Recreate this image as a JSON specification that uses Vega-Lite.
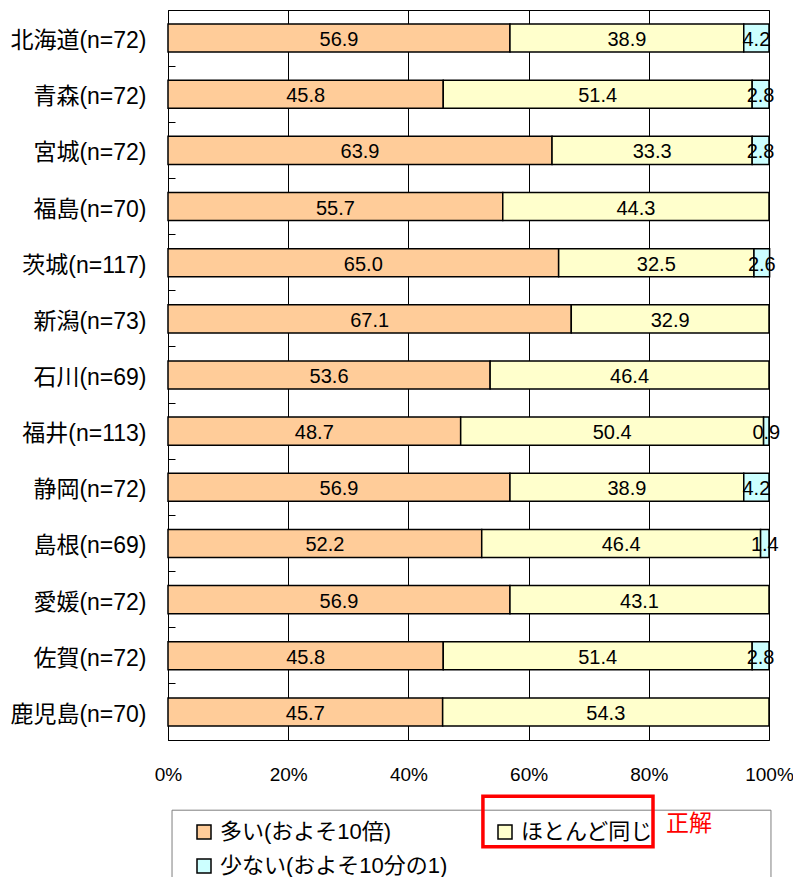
{
  "$schema": "https://vega.github.io/schema/vega-lite/v6.json",
  "width": 601,
  "height": 730,
  "autosize": {"type": "none"},
  "padding": {"left": 168, "top": 10, "right": 24, "bottom": 137},
  "config": {
    "font": "Liberation Sans, Noto Sans CJK JP",
    "view": {"stroke": "#000", "strokeWidth": 1}
  },
  "layer": [
    {
      "data": {
        "values": [
          {"pref": "北海道(n=72)", "answer": "多い(およそ10倍)", "code": 1, "pct": 56.9},
          {"pref": "北海道(n=72)", "answer": "ほとんど同じ", "code": 2, "pct": 38.9},
          {"pref": "北海道(n=72)", "answer": "少ない(およそ10分の1)", "code": 3, "pct": 4.2},
          {"pref": "青森(n=72)", "answer": "多い(およそ10倍)", "code": 1, "pct": 45.8},
          {"pref": "青森(n=72)", "answer": "ほとんど同じ", "code": 2, "pct": 51.4},
          {"pref": "青森(n=72)", "answer": "少ない(およそ10分の1)", "code": 3, "pct": 2.8},
          {"pref": "宮城(n=72)", "answer": "多い(およそ10倍)", "code": 1, "pct": 63.9},
          {"pref": "宮城(n=72)", "answer": "ほとんど同じ", "code": 2, "pct": 33.3},
          {"pref": "宮城(n=72)", "answer": "少ない(およそ10分の1)", "code": 3, "pct": 2.8},
          {"pref": "福島(n=70)", "answer": "多い(およそ10倍)", "code": 1, "pct": 55.7},
          {"pref": "福島(n=70)", "answer": "ほとんど同じ", "code": 2, "pct": 44.3},
          {"pref": "茨城(n=117)", "answer": "多い(およそ10倍)", "code": 1, "pct": 65.0},
          {"pref": "茨城(n=117)", "answer": "ほとんど同じ", "code": 2, "pct": 32.5},
          {"pref": "茨城(n=117)", "answer": "少ない(およそ10分の1)", "code": 3, "pct": 2.6},
          {"pref": "新潟(n=73)", "answer": "多い(およそ10倍)", "code": 1, "pct": 67.1},
          {"pref": "新潟(n=73)", "answer": "ほとんど同じ", "code": 2, "pct": 32.9},
          {"pref": "石川(n=69)", "answer": "多い(およそ10倍)", "code": 1, "pct": 53.6},
          {"pref": "石川(n=69)", "answer": "ほとんど同じ", "code": 2, "pct": 46.4},
          {"pref": "福井(n=113)", "answer": "多い(およそ10倍)", "code": 1, "pct": 48.7},
          {"pref": "福井(n=113)", "answer": "ほとんど同じ", "code": 2, "pct": 50.4},
          {"pref": "福井(n=113)", "answer": "少ない(およそ10分の1)", "code": 3, "pct": 0.9},
          {"pref": "静岡(n=72)", "answer": "多い(およそ10倍)", "code": 1, "pct": 56.9},
          {"pref": "静岡(n=72)", "answer": "ほとんど同じ", "code": 2, "pct": 38.9},
          {"pref": "静岡(n=72)", "answer": "少ない(およそ10分の1)", "code": 3, "pct": 4.2},
          {"pref": "島根(n=69)", "answer": "多い(およそ10倍)", "code": 1, "pct": 52.2},
          {"pref": "島根(n=69)", "answer": "ほとんど同じ", "code": 2, "pct": 46.4},
          {"pref": "島根(n=69)", "answer": "少ない(およそ10分の1)", "code": 3, "pct": 1.4},
          {"pref": "愛媛(n=72)", "answer": "多い(およそ10倍)", "code": 1, "pct": 56.9},
          {"pref": "愛媛(n=72)", "answer": "ほとんど同じ", "code": 2, "pct": 43.1},
          {"pref": "佐賀(n=72)", "answer": "多い(およそ10倍)", "code": 1, "pct": 45.8},
          {"pref": "佐賀(n=72)", "answer": "ほとんど同じ", "code": 2, "pct": 51.4},
          {"pref": "佐賀(n=72)", "answer": "少ない(およそ10分の1)", "code": 3, "pct": 2.8},
          {"pref": "鹿児島(n=70)", "answer": "多い(およそ10倍)", "code": 1, "pct": 45.7},
          {"pref": "鹿児島(n=70)", "answer": "ほとんど同じ", "code": 2, "pct": 54.3}
        ]
      },
      "transform": [
        {"stack": "pct", "groupby": ["pref"], "sort": [{"field": "code", "order": "ascending"}], "as": ["x0", "x1"]},
        {"calculate": "(datum.x0 + datum.x1) / 2", "as": "mid"}
      ],
      "layer": [
        {
          "mark": {"type": "bar", "stroke": "#000", "strokeWidth": 1.5},
          "encoding": {
            "y": {
              "field": "pref", "type": "nominal", "sort": null, "title": null,
              "scale": {"paddingInner": 0.5, "paddingOuter": 0.25},
              "axis": {
                "domainColor": "#000", "ticks": true, "tickSize": -7, "tickColor": "#000",
                "bandPosition": 1.5, "labelFontSize": 23, "labelColor": "#000",
                "labelPadding": 29, "labelOffset": 3, "grid": false, "labelLimit": 300
              }
            },
            "x": {
              "field": "x0", "type": "quantitative", "title": null,
              "scale": {"domain": [0, 100]},
              "axis": {
                "values": [0, 20, 40, 60, 80, 100], "labelExpr": "datum.value + '%'",
                "ticks": false, "domain": false, "grid": true, "gridColor": "#000",
                "gridWidth": 1, "gridOpacity": 1, "labelFontSize": 19, "labelColor": "#000",
                "labelPadding": 25, "labelFlush": false
              }
            },
            "x2": {"field": "x1"},
            "color": {
              "field": "answer", "type": "nominal",
              "scale": {
                "domain": ["多い(およそ10倍)", "ほとんど同じ", "少ない(およそ10分の1)"],
                "range": ["#FFCC99", "#FFFFCC", "#CCFFFF"]
              },
              "legend": {
                "orient": "none", "legendX": 25, "legendY": 811, "direction": "horizontal",
                "columns": 2, "title": null, "symbolType": "square", "symbolSize": 196,
                "symbolStrokeColor": "#000", "symbolStrokeWidth": 1.5, "symbolOpacity": 1,
                "labelFontSize": 22, "labelColor": "#000", "labelOffset": 5,
                "columnPadding": 46, "rowPadding": 12, "padding": 0, "labelLimit": 400
              }
            }
          }
        },
        {
          "mark": {"type": "text", "fontSize": 20, "baseline": "middle", "color": "#000", "dy": 2},
          "encoding": {
            "y": {"field": "pref", "type": "nominal", "sort": null},
            "x": {"field": "mid", "type": "quantitative", "title": null},
            "text": {"field": "pct", "type": "quantitative", "format": ".1f"}
          }
        }
      ]
    },
    {
      "data": {
        "values": [
          {"kind": "frame", "x0": 0.67, "x1": 100.33, "y0": -1.25, "y1": -2.8},
          {"kind": "answer", "x0": 52.4, "x1": 80.7, "y0": -1.0, "y1": -1.9, "label": "正解"}
        ]
      },
      "layer": [
        {
          "transform": [{"filter": "datum.kind === 'frame'"}],
          "mark": {"type": "rect", "filled": false, "stroke": "#7f7f7f", "strokeWidth": 1},
          "encoding": {
            "x": {"field": "x0", "type": "quantitative", "title": null},
            "x2": {"field": "x1"},
            "y": {"field": "y0", "type": "quantitative", "scale": {"domain": [0, 13]}, "axis": null},
            "y2": {"field": "y1"}
          }
        },
        {
          "transform": [{"filter": "datum.kind === 'answer'"}],
          "mark": {"type": "rect", "filled": false, "stroke": "#ff0000", "strokeWidth": 3.5},
          "encoding": {
            "x": {"field": "x0", "type": "quantitative", "title": null},
            "x2": {"field": "x1"},
            "y": {"field": "y0", "type": "quantitative", "scale": {"domain": [0, 13]}, "axis": null},
            "y2": {"field": "y1"}
          }
        },
        {
          "transform": [{"filter": "datum.kind === 'answer'"}, {"calculate": "(datum.y0 + datum.y1) / 2", "as": "ym"}],
          "mark": {"type": "text", "color": "#ff0000", "fontSize": 23, "align": "left", "baseline": "middle", "dx": 13, "dy": 3},
          "encoding": {
            "x": {"field": "x1", "type": "quantitative", "title": null},
            "y": {"field": "ym", "type": "quantitative", "scale": {"domain": [0, 13]}, "axis": null},
            "text": {"field": "label"}
          }
        }
      ]
    }
  ],
  "resolve": {"scale": {"y": "independent"}}
}
